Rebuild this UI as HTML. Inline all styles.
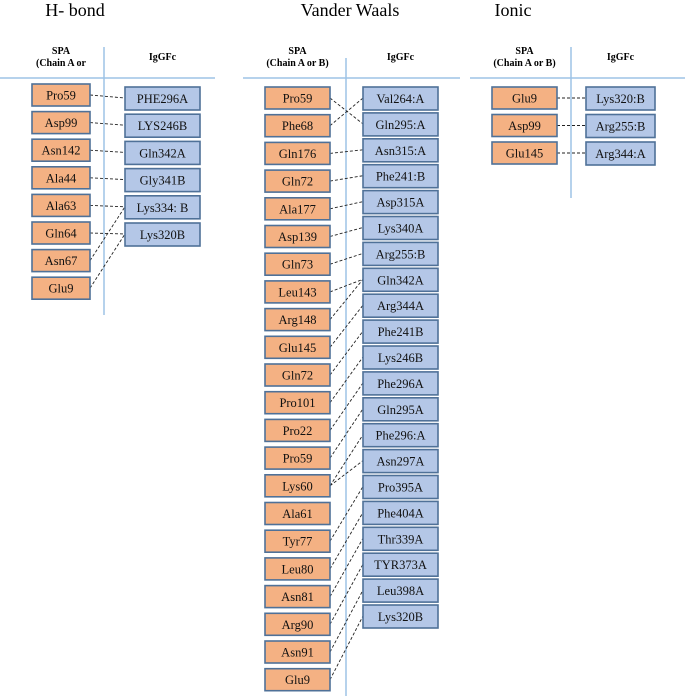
<!DOCTYPE html>
<html><head><meta charset="utf-8"><style>
body{margin:0;background:#fff;}
svg{display:block;font-family:"Liberation Serif",serif;}
</style></head><body>
<svg id="s" width="685" height="696" viewBox="0 0 685 696"></svg>
<script>
const NS='http://www.w3.org/2000/svg';
const svg=document.getElementById('s');
function el(t,a,p){const e=document.createElementNS(NS,t);for(const k in a)e.setAttribute(k,a[k]);(p||svg).appendChild(e);return e;}

// H-bond data
const hbLeft=['Pro59','Asp99','Asn142','Ala44','Ala63','Gln64','Asn67','Glu9'];
const hbRight=['PHE296A','LYS246B','Gln342A','Gly341B','Lys334: B','Lys320B'];
const hbLinks=[[0,0],[1,1],[2,2],[3,3],[4,4],[5,5],[6,4],[7,5]];
// Van der Waals data
const vwLeft=['Pro59','Phe68','Gln176','Gln72','Ala177','Asp139','Gln73','Leu143','Arg148','Glu145','Gln72','Pro101','Pro22','Pro59','Lys60','Ala61','Tyr77','Leu80','Asn81','Arg90','Asn91','Glu9'];
const vwRight=['Val264:A','Gln295:A','Asn315:A','Phe241:B','Asp315A','Lys340A','Arg255:B','Gln342A','Arg344A','Phe241B','Lys246B','Phe296A','Gln295A','Phe296:A','Asn297A','Pro395A','Phe404A','Thr339A','TYR373A','Leu398A','Lys320B'];
const vwLinks=[[0,1],[1,0],[2,2],[3,3],[4,4],[5,5],[6,6],[7,7],[8,7],[9,8],[10,9],[11,10],[12,11],[13,12],[14,13],[14,14],[16,15],[17,16],[18,17],[19,18],[20,19],[21,20]];
// Ionic data
const ioLeft=['Glu9','Asp99','Glu145'];
const ioRight=['Lys320:B','Arg255:B','Arg344:A'];
const ioLinks=[[0,0],[1,1],[2,2]];

const panels=[
 {name:'h-bond',title:'H- bond',tx:75,hx0:0,hx1:215,vx:104,vy0:47,vy1:315,spa:'(Chain A or',
  lx:32,lw:58,ly:84,lstep:27.6,rx:125,rw:75,ry:87,rstep:27.2,rh:23,L:hbLeft,R:hbRight,K:hbLinks},
 {name:'vander-waals',title:'Vander Waals',tx:350,hx0:243,hx1:460,vx:346,vy0:58,vy1:696,spa:'(Chain A or B)',
  lx:265,lw:65,ly:87,lstep:27.7,rx:363,rw:75,ry:87,rstep:25.9,rh:23,L:vwLeft,R:vwRight,K:vwLinks},
 {name:'ionic',title:'Ionic',tx:513,hx0:470,hx1:685,vx:571,vy0:47,vy1:198,spa:'(Chain A or B)',
  lx:492,lw:65,ly:87,lstep:27.5,rx:586,rw:69,ry:87,rstep:27.5,rh:23,L:ioLeft,R:ioRight,K:ioLinks}
];

panels.forEach(p=>{
 const g=el('g',{});
 
 
 const t=el('text',{x:p.tx,y:16,'text-anchor':'middle','font-size':18,fill:'#000'},g);t.textContent=p.title;
 
 const hl=el('line',{x1:p.hx0,x2:p.hx1,y1:78,y2:78,stroke:'#9dc3e6','stroke-width':1.5},g);
 
 const vl=el('line',{x1:p.vx,x2:p.vx,y1:p.vy0,y2:p.vy1,stroke:'#9dc3e6','stroke-width':1.5},g);
 
 const lc=p.lx+p.lw/2, rc=p.rx+p.rw/2;
 const h1=el('text',{x:lc,y:54,'text-anchor':'middle','font-size':10,'font-weight':'bold'},g);h1.textContent='SPA';
 
 const h2=el('text',{x:lc,y:66,'text-anchor':'middle','font-size':10,'font-weight':'bold'},g);h2.textContent=p.spa;
 
 const h3=el('text',{x:rc,y:60,'text-anchor':'middle','font-size':10,'font-weight':'bold'},g);h3.textContent='IgGFc';
 
 const ly=i=>p.ly+i*p.lstep, ry=i=>p.ry+i*p.rstep;
 p.K.forEach(([a,b])=>{
  const ln=el('line',{x1:p.lx+p.lw,y1:ly(a)+11,x2:p.rx,y2:ry(b)+11,stroke:'#222','stroke-width':0.9,'stroke-dasharray':'3,2'},g);
  
 });
 p.L.forEach((s,i)=>{
  const r=el('rect',{x:p.lx,y:ly(i),width:p.lw,height:22,fill:'#f4b183',stroke:'#4f7198','stroke-width':1.6},g);
  
  const tx=el('text',{x:lc,y:ly(i)+15.5,'text-anchor':'middle','font-size':12.5,fill:'#111'},g);tx.textContent=s;
  
 });
 p.R.forEach((s,i)=>{
  const r=el('rect',{x:p.rx,y:ry(i),width:p.rw,height:p.rh,fill:'#b4c7e7',stroke:'#4f7198','stroke-width':1.6},g);
  
  const tx=el('text',{x:rc,y:ry(i)+16,'text-anchor':'middle','font-size':12.5,fill:'#111'},g);tx.textContent=s;
  
 });
});
</script>
</body></html>
